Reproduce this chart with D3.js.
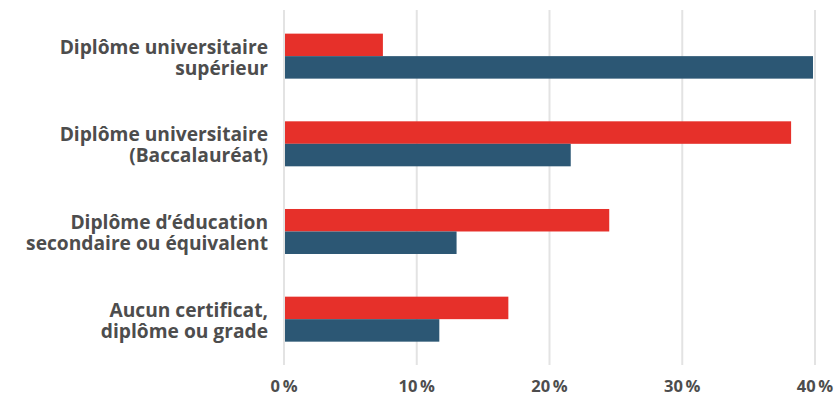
<!DOCTYPE html>
<html>
<head>
<meta charset="utf-8">
<script src="https://cdn.jsdelivr.net/npm/d3@7"></script>
<style>
  html, body { margin: 0; padding: 0; background: #ffffff; }
  svg { display: block; }
  text { font-family: "Open Sans", "Noto Sans", sans-serif; font-weight: 700; fill: #4d4d4d; }
</style>
</head>
<body>
<svg id="chart" width="839" height="398"></svg>
<script>
// Education levels, each drawn as a two-line label
const categories = [
  ["Diplôme universitaire", "supérieur"],
  ["Diplôme universitaire", "(Baccalauréat)"],
  ["Diplôme d’éducation", "secondaire ou équivalent"],
  ["Aucun certificat,", "diplôme ou grade"]
];
const seriesNames = ["rouge", "bleu"];
const redValues = [7.45, 38.2, 24.5, 16.9];
const blueValues = [39.85, 21.6, 13.0, 11.7];
const tickValues = [0, 10, 20, 30, 40];
const tickLabels = ["0\u2009%", "10\u2009%", "20\u2009%", "30\u2009%", "40\u2009%"];
const colors = { rouge: "#e6302a", bleu: "#2c5774" };

const svg = d3.select("#chart");

const x = d3.scaleLinear().domain([0, 40]).range([284, 815]);
const y = d3.scaleBand().domain(d3.range(categories.length)).range([12.3, 363]).padding(0);
const step = y.bandwidth();
const barH = 22.5;
const ySub = d3.scaleBand().domain(seriesNames)
  .range([step / 2 - barH, step / 2 + barH]).padding(0);

// vertical gridlines
svg.append("g").selectAll("line").data(tickValues).join("line")
  .attr("x1", d => x(d)).attr("x2", d => x(d))
  .attr("y1", 10).attr("y2", 365)
  .attr("stroke", "#e3e3e3").attr("stroke-width", 2);

// bars
const rows = categories.map((c, i) => ({ i, values: { rouge: redValues[i], bleu: blueValues[i] } }));
const groups = svg.append("g").selectAll("g").data(rows).join("g")
  .attr("transform", d => `translate(0,${y(d.i)})`);
groups.selectAll("rect").data(d => seriesNames.map(s => ({ s, v: d.values[s] }))).join("rect")
  .attr("x", x(0) + 1)
  .attr("y", d => ySub(d.s))
  .attr("width", d => x(d.v) - x(0) - 1)
  .attr("height", ySub.bandwidth())
  .attr("fill", d => colors[d.s]);

// category labels, one text per line
const labelG = svg.append("g").selectAll("g").data(rows).join("g")
  .attr("transform", d => `translate(268,${y(d.i) + step / 2})`);
labelG.selectAll("text").data(d => categories[d.i]).join("text")
  .attr("text-anchor", "end")
  .attr("font-size", 19.2)
  .attr("x", 0)
  .attr("y", (d, k) => k === 0 ? -2.5 : 18.6)
  .text(d => d);

// x axis tick labels
svg.append("g").selectAll("text").data(tickValues).join("text")
  .attr("x", d => x(d))
  .attr("y", 392)
  .attr("text-anchor", "middle")
  .attr("font-size", 16.5)
  .text((d, i) => tickLabels[i]);
</script>
</body>
</html>
